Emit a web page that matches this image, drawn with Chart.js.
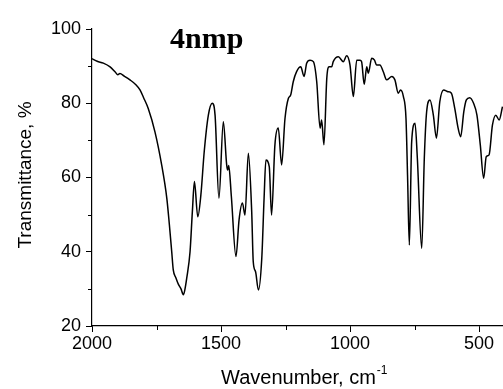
<!DOCTYPE html>
<html>
<head>
<meta charset="utf-8">
<script src="https://cdn.jsdelivr.net/npm/chart.js@4.4.1/dist/chart.umd.min.js"></script>
<style>
html,body{margin:0;padding:0;background:#fff;}
#wrap{width:503px;height:389px;}
</style>
</head>
<body>
<div id="wrap"><canvas id="c" width="503" height="389"></canvas></div>
<script>
// ---- data ----
const wavenumber = [2000,1980,1956,1930,1910,1900,1892,1875,1853,1830,1814,1800,1782,1756,1730,1710,1700,1691,1685,1675,1665,1655,1646,1640,1633,1620,1611,1603,1590,1578,1565,1549,1534,1523,1508,1491,1478,1474,1470,1460,1442,1430,1417,1407,1394,1381,1375,1366,1355,1342,1333,1326,1313,1304,1291,1278,1265,1252,1239,1230,1220,1207,1191,1178,1168,1155,1142,1129,1116,1110,1101,1090,1081,1071,1065,1045,1026,1013,1000,987,974,961,955,945,935,929,916,905,897,884,871,858,838,826,813,804,793,783,777,770,761,748,739,722,712,703,690,677,665,652,637,620,607,594,581,571,559,549,536,521,508,495,482,472,461,448,435,422,409];
const transmittance = [92.0,91.3,90.8,89.8,88.4,87.7,88.0,87.3,86.3,85.0,83.6,81.5,78.6,72.3,63.4,54.4,47.2,40.0,35.1,33.0,31.2,30.0,28.4,29.8,32.8,40.0,50.8,58.9,49.4,55.3,67.0,76.8,80.0,76.8,54.4,75.0,63.4,62.0,63.2,55.0,38.7,48.6,53.1,49.9,66.5,50.8,37.3,34.6,29.7,38.2,54.4,64.7,62.9,49.9,68.8,73.3,63.4,75.9,81.3,82.2,85.8,88.5,89.8,87.2,90.8,91.6,91.2,85.8,73.3,75.5,68.8,86.7,89.8,89.8,91.2,92.5,91.2,92.8,90.3,81.8,91.6,91.6,91.2,85.1,89.8,88.1,92.1,91.6,90.3,90.3,88.5,86.3,87.2,86.3,82.7,83.6,81.8,75.9,60.7,41.8,69.6,74.6,65.2,40.9,65.2,77.7,80.9,76.8,70.6,80.4,83.6,83.1,82.7,78.6,73.3,71.0,77.7,80.9,81.5,80.0,76.8,68.8,59.8,65.6,66.1,74.1,76.8,75.5,79.1];
const xMajorTicks = [2000,1500,1000,500];
const xMinorTicks = [1750,1250,750];
const yMajorTicks = [20,40,60,80,100];
const yMinorTicks = [30,50,70,90];
const sampleName = '4nmp';
const xTitle = 'Wavenumber, cm';
const xTitleSup = '-1';
const yTitle = 'Transmittance, %';

const SANS = '"Liberation Sans", Arial, sans-serif';
const SERIF = '"Liberation Serif", "Times New Roman", serif';

const points = wavenumber.map((w,i)=>({x:w,y:transmittance[i]}));

const decor = {
  id:'decor',
  afterDraw(chart){
    const ctx = chart.ctx;
    const xs = chart.scales.x, ys = chart.scales.y;
    ctx.save();
    ctx.strokeStyle = '#000';
    ctx.lineWidth = 1;
    const bottom = chart.chartArea.bottom, left = chart.chartArea.left;
    xMinorTicks.forEach(v=>{
      const px = Math.round(xs.getPixelForValue(v))+0.5;
      ctx.beginPath(); ctx.moveTo(px,bottom); ctx.lineTo(px,bottom+4); ctx.stroke();
    });
    yMinorTicks.forEach(v=>{
      const py = Math.round(ys.getPixelForValue(v))+0.5;
      ctx.beginPath(); ctx.moveTo(left,py); ctx.lineTo(left-4,py); ctx.stroke();
    });
    ctx.fillStyle = '#000';
    ctx.font = 'bold 30px ' + SERIF;
    ctx.textAlign = 'left'; ctx.textBaseline = 'alphabetic';
    ctx.fillText(sampleName, 170, 48);
    ctx.font = '20px ' + SANS;
    ctx.fillText(xTitle, 221, 384);
    const w = ctx.measureText(xTitle).width;
    ctx.font = '12px ' + SANS;
    ctx.fillText(xTitleSup, 221 + w + 1, 374);
    ctx.translate(31, 175);
    ctx.rotate(-Math.PI/2);
    ctx.font = '19px ' + SANS;
    ctx.textAlign = 'center';
    ctx.fillText(yTitle, 0, 0);
    ctx.restore();
  }
};

new Chart(document.getElementById('c'), {
  type:'line',
  data:{
    datasets:[{
      data: points,
      borderColor:'#000',
      borderWidth:1.5,
      pointRadius:0,
      fill:false,
      cubicInterpolationMode:'monotone'
    }]
  },
  options:{
    responsive:false,
    animation:false,
    devicePixelRatio:1,
    layout:{padding:{top:29,right:0,left:0,bottom:0}},
    plugins:{legend:{display:false},tooltip:{enabled:false},title:{display:false}},
    scales:{
      x:{
        type:'linear', reverse:true, min:407, max:2000,
        afterBuildTicks(s){ s.ticks = xMajorTicks.map(v=>({value:v})); },
        afterFit(s){ s.height = 63; },
        grid:{drawOnChartArea:false, drawTicks:true, tickLength:6, color:'#000', tickWidth:1},
        border:{display:true, color:'#000', width:1.2},
        ticks:{font:{size:18, family:SANS}, color:'#000', padding:1, maxRotation:0, autoSkip:false,
               callback:(v)=>String(v)}
      },
      y:{
        type:'linear', min:20, max:100,
        afterBuildTicks(s){ s.ticks = yMajorTicks.map(v=>({value:v})); },
        afterFit(s){ s.width = 92; },
        grid:{drawOnChartArea:false, drawTicks:true, tickLength:6, color:'#000', tickWidth:1},
        border:{display:true, color:'#000', width:1.2},
        ticks:{font:{size:18, family:SANS}, color:'#000', padding:5, autoSkip:false,
               callback:(v)=>String(v)}
      }
    }
  },
  plugins:[decor]
});
</script>
</body>
</html>
